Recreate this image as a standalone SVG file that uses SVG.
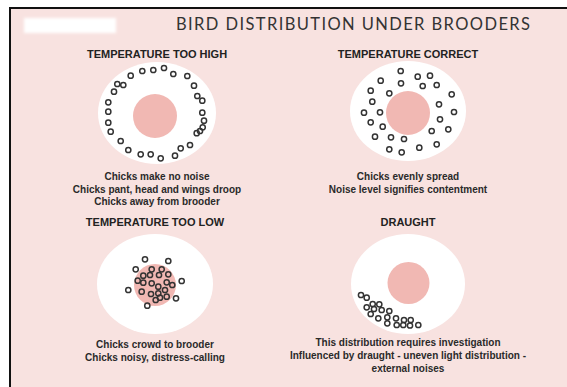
<svg xmlns="http://www.w3.org/2000/svg" width="567" height="387" viewBox="0 0 567 387">
  <defs>
    <filter id="soft" x="-20%" y="-50%" width="140%" height="200%">
      <feGaussianBlur stdDeviation="1.6"/>
    </filter>
    <style>
      .bg { fill: #f8e2e0; }
      .frame { fill: #111; }
      .pen { fill: #ffffff; }
      .lamp { fill: #f1b8b3; }
      .chick { fill: none; stroke: #333; stroke-width: 1.5; }
      .title { font-family: "Lato", "Liberation Sans", sans-serif; font-size: 16.5px; fill: #333; }
      .head { font-family: "Liberation Sans", sans-serif; font-weight: bold; font-size: 11px; fill: #222; text-anchor: middle; }
      .note { font-family: "Liberation Sans", sans-serif; font-weight: bold; font-size: 10px; fill: #2a2a2a; text-anchor: middle; }
    </style>
  </defs>

  <!-- page and frame -->
  <rect x="0" y="0" width="567" height="387" fill="#ffffff"/>
  <rect class="bg" x="10" y="8" width="557" height="379"/>
  <rect class="frame" x="9" y="7" width="558" height="2"/>
  <rect class="frame" x="9" y="7" width="2" height="380"/>
  <rect x="24" y="18" width="92" height="15" fill="#ffffff" filter="url(#soft)"/>

  <text class="title" x="176" y="30" textLength="354" lengthAdjust="spacing">BIRD DISTRIBUTION UNDER BROODERS</text>

  <!-- temperature too high: chicks pushed to the edge -->
  <g id="too-high">
    <text class="head" x="157" y="58">TEMPERATURE TOO HIGH</text>
    <ellipse class="pen" cx="157" cy="113" rx="59" ry="51"/>
    <circle class="lamp" cx="155" cy="116" r="22"/>
    <g class="chick">
      <circle cx="130.7" cy="75.7" r="2.6"/><circle cx="142.3" cy="71" r="2.6"/><circle cx="153.3" cy="70" r="2.6"/>
      <circle cx="164" cy="68" r="2.6"/><circle cx="173.3" cy="74" r="2.6"/><circle cx="187.3" cy="76" r="2.6"/>
      <circle cx="117.3" cy="84" r="2.6"/><circle cx="123.3" cy="85" r="2.6"/><circle cx="114" cy="91.7" r="2.6"/>
      <circle cx="194" cy="85.7" r="2.6"/><circle cx="197.3" cy="96" r="2.6"/><circle cx="202.3" cy="100.7" r="2.6"/>
      <circle cx="108.3" cy="102.3" r="2.6"/><circle cx="108.3" cy="111.7" r="2.6"/><circle cx="202.3" cy="112.7" r="2.6"/>
      <circle cx="204" cy="120.7" r="2.6"/><circle cx="108.3" cy="122.7" r="2.6"/><circle cx="110.7" cy="131.7" r="2.6"/>
      <circle cx="202.7" cy="127.3" r="2.6"/><circle cx="200" cy="131" r="2.6"/><circle cx="196.7" cy="133.2" r="2.6"/>
      <circle cx="120.7" cy="141" r="2.6"/><circle cx="190" cy="145" r="2.6"/><circle cx="180.7" cy="148.3" r="2.6"/>
      <circle cx="128.3" cy="150" r="2.6"/><circle cx="140.7" cy="154.3" r="2.6"/><circle cx="150.7" cy="154.3" r="2.6"/>
      <circle cx="160.7" cy="158.3" r="2.6"/><circle cx="175" cy="155.7" r="2.6"/>
    </g>
    <text class="note" x="157" y="180">Chicks make no noise</text>
    <text class="note" x="157" y="193">Chicks pant, head and wings droop</text>
    <text class="note" x="157" y="205">Chicks away from brooder</text>
  </g>

  <!-- temperature correct: chicks evenly spread -->
  <g id="correct">
    <text class="head" x="408" y="58">TEMPERATURE CORRECT</text>
    <ellipse class="pen" cx="408" cy="111" rx="58" ry="50"/>
    <circle class="lamp" cx="408" cy="113" r="22"/>
    <g class="chick">
      <circle cx="400.7" cy="71" r="2.6"/><circle cx="417.7" cy="76.7" r="2.6"/><circle cx="430" cy="75.7" r="2.6"/>
      <circle cx="380.7" cy="80.7" r="2.6"/><circle cx="401" cy="83.3" r="2.6"/><circle cx="422.7" cy="86" r="2.6"/>
      <circle cx="436.7" cy="85" r="2.6"/><circle cx="370.7" cy="90.7" r="2.6"/><circle cx="389.3" cy="93.3" r="2.6"/>
      <circle cx="451.7" cy="94.3" r="2.6"/><circle cx="372.3" cy="101.7" r="2.6"/><circle cx="439" cy="104.3" r="2.6"/>
      <circle cx="364" cy="112.7" r="2.6"/><circle cx="380" cy="112.3" r="2.6"/><circle cx="454" cy="112" r="2.6"/>
      <circle cx="440" cy="119.3" r="2.6"/><circle cx="370.7" cy="122.3" r="2.6"/><circle cx="382.7" cy="126.7" r="2.6"/>
      <circle cx="448.3" cy="129.3" r="2.6"/><circle cx="431.7" cy="131" r="2.6"/><circle cx="375" cy="136.7" r="2.6"/>
      <circle cx="391" cy="137.3" r="2.6"/><circle cx="404" cy="139" r="2.6"/><circle cx="436.7" cy="144.3" r="2.6"/>
      <circle cx="419.3" cy="147.7" r="2.6"/><circle cx="389.3" cy="149.3" r="2.6"/><circle cx="401.7" cy="152.3" r="2.6"/>
    </g>
    <text class="note" x="408" y="180">Chicks evenly spread</text>
    <text class="note" x="408" y="193">Noise level signifies contentment</text>
  </g>

  <!-- temperature too low: chicks crowd under the lamp -->
  <g id="too-low">
    <text class="head" x="155" y="226">TEMPERATURE TOO LOW</text>
    <ellipse class="pen" cx="155" cy="284" rx="58" ry="50"/>
    <circle class="lamp" cx="155" cy="285" r="21"/>
    <g class="chick">
      <circle cx="145" cy="259.3" r="2.6"/><circle cx="168.3" cy="261" r="2.6"/><circle cx="135.7" cy="269.3" r="2.6"/>
      <circle cx="151.7" cy="269.3" r="2.6"/><circle cx="161.7" cy="269.3" r="2.6"/><circle cx="143.3" cy="275.7" r="2.6"/>
      <circle cx="150" cy="275" r="2.6"/><circle cx="159" cy="275" r="2.6"/><circle cx="168.3" cy="274.3" r="2.6"/>
      <circle cx="137.7" cy="280.7" r="2.6"/><circle cx="143.3" cy="282.7" r="2.6"/><circle cx="151.7" cy="283.3" r="2.6"/>
      <circle cx="158.3" cy="286.7" r="2.6"/><circle cx="166.7" cy="282.3" r="2.6"/><circle cx="172.3" cy="285" r="2.6"/>
      <circle cx="181.7" cy="281" r="2.6"/><circle cx="128.3" cy="290" r="2.6"/><circle cx="141.7" cy="291.7" r="2.6"/>
      <circle cx="151" cy="294" r="2.6"/><circle cx="158.3" cy="293.3" r="2.6"/><circle cx="165" cy="290" r="2.6"/>
      <circle cx="160" cy="297.7" r="2.6"/><circle cx="166.7" cy="296.7" r="2.6"/><circle cx="155.7" cy="300" r="2.6"/>
      <circle cx="176" cy="298.3" r="2.6"/><circle cx="147.3" cy="305.7" r="2.6"/>
    </g>
    <text class="note" x="155" y="348">Chicks crowd to brooder</text>
    <text class="note" x="155" y="361">Chicks noisy, distress-calling</text>
  </g>

  <!-- draught: chicks huddle on one side -->
  <g id="draught">
    <text class="head" x="408" y="226">DRAUGHT</text>
    <ellipse class="pen" cx="408" cy="284" rx="57" ry="50"/>
    <circle class="lamp" cx="408.5" cy="283" r="21"/>
    <g class="chick">
      <circle cx="361" cy="295" r="2.6"/><circle cx="366.7" cy="297.7" r="2.6"/><circle cx="372.7" cy="304" r="2.6"/>
      <circle cx="379.3" cy="304.3" r="2.6"/><circle cx="366.7" cy="307.3" r="2.6"/><circle cx="374" cy="309" r="2.6"/>
      <circle cx="381.7" cy="310" r="2.6"/><circle cx="389.3" cy="311" r="2.6"/><circle cx="370.7" cy="314" r="2.6"/>
      <circle cx="378.3" cy="318.3" r="2.6"/><circle cx="387.3" cy="317.3" r="2.6"/><circle cx="396" cy="318.3" r="2.6"/>
      <circle cx="404" cy="320" r="2.6"/><circle cx="410.7" cy="320" r="2.6"/><circle cx="387.3" cy="323.3" r="2.6"/>
      <circle cx="396.7" cy="325" r="2.6"/><circle cx="403.3" cy="325" r="2.6"/><circle cx="410" cy="325.5" r="2.6"/>
      <circle cx="418.3" cy="325" r="2.6"/>
    </g>
    <text class="note" x="408" y="346">This distribution requires investigation</text>
    <text class="note" x="408" y="359">Influenced by draught - uneven light distribution -</text>
    <text class="note" x="408" y="372">external noises</text>
  </g>

  <g id="connectors"/>
</svg>
